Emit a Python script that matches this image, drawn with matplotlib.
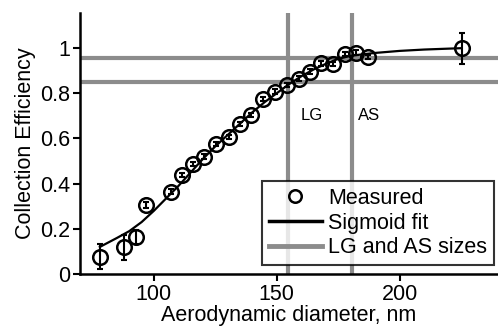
import matplotlib
matplotlib.use("Agg")
import matplotlib.pyplot as plt
from matplotlib.lines import Line2D

plt.rcParams['font.family'] = ['Liberation Sans', 'DejaVu Sans']

# Measured data
meas_x = [78.1, 87.9, 92.6, 96.9, 107.0, 111.5, 115.9, 120.5, 125.4, 130.6, 135.1,
          139.4, 144.5, 149.3, 154.1, 159.0, 163.7, 168.1, 172.9, 177.6, 182.3, 187.0, 225.5]
meas_y = [0.077, 0.118, 0.165, 0.305, 0.364, 0.438, 0.487, 0.519, 0.575, 0.607, 0.664,
          0.704, 0.774, 0.807, 0.836, 0.864, 0.895, 0.932, 0.929, 0.973, 0.979, 0.959, 0.998]
meas_err = [0.055, 0.055, 0.03, 0.012, 0.012, 0.01, 0.01, 0.01, 0.01, 0.01, 0.01,
            0.01, 0.01, 0.01, 0.01, 0.01, 0.01, 0.01, 0.01, 0.01, 0.01, 0.01, 0.07]

# Sigmoid fit
fit_x = [78, 85, 90, 95, 100, 105, 110, 115, 120, 125, 130, 135, 140, 145, 150,
         155, 160, 165, 170, 175, 180, 185, 190, 200, 210, 225]
fit_y = [0.12, 0.16, 0.19, 0.23, 0.28, 0.335, 0.39, 0.45, 0.51, 0.565, 0.615, 0.665,
         0.715, 0.76, 0.80, 0.84, 0.875, 0.905, 0.93, 0.952, 0.965, 0.972, 0.978,
         0.987, 0.993, 0.999]

# LG and AS sizes
size_x = [154.7, 180.8]
size_y = [0.85, 0.955]
size_labels = ["LG", "AS"]

xticks = [100, 150, 200]
yticks = [0, 0.2, 0.4, 0.6, 0.8, 1.0]
ytick_labels = ["0", "0.2", "0.4", "0.6", "0.8", "1"]

grey = "#8c8c8c"
fs = 15.5

fig = plt.figure(figsize=(4.98, 3.31), dpi=100)
ax = fig.add_axes([0.161, 0.172, 0.839, 0.789])

for xv in size_x:
    ax.axvline(xv, color=grey, lw=3.0, zorder=1)
for yv in size_y:
    ax.axhline(yv, color=grey, lw=3.0, zorder=1)

ax.plot(fit_x, fit_y, color="black", lw=1.6, zorder=2)
ax.errorbar(meas_x, meas_y, yerr=meas_err, fmt="none", ecolor="black",
            elinewidth=1.5, capsize=2.5, capthick=1.5, zorder=3)
ax.plot(meas_x, meas_y, "o", ms=10.5, mfc="none", mec="black", mew=1.8, zorder=4)

ax.text(159.5, 0.70, size_labels[0], fontsize=12, va="center", ha="left")
ax.text(183.0, 0.70, size_labels[1], fontsize=12, va="center", ha="left")

ax.set_xlim(70, 240)
ax.set_ylim(0, 1.155)
ax.set_xticks(xticks)
ax.set_yticks(yticks)
ax.set_yticklabels(ytick_labels)
ax.tick_params(labelsize=fs, width=1.5, length=5, pad=2, direction="out")

for s in ["top", "right"]:
    ax.spines[s].set_visible(False)
for s in ["left", "bottom"]:
    ax.spines[s].set_linewidth(1.8)

ax.set_xlabel("Aerodynamic diameter, nm", fontsize=fs, labelpad=0)
ax.set_ylabel("Collection Efficiency", fontsize=fs, labelpad=3)

handles = [
    Line2D([], [], marker="o", ls="none", ms=9, mfc="none", mec="black", mew=1.8),
    Line2D([], [], color="black", lw=2.5),
    Line2D([], [], color=grey, lw=3.5),
]
leg = ax.legend(handles, ["Measured", "Sigmoid fit", "LG and AS sizes"],
                loc="lower right", bbox_to_anchor=(0.99, 0.035), fontsize=fs,
                frameon=True, fancybox=False, edgecolor="black",
                handlelength=2.5, handletextpad=0.28, borderpad=0.3,
                labelspacing=0.18, borderaxespad=0.0)
leg.get_frame().set_linewidth(1.5)
leg.set_zorder(5)

fig.savefig("out.png", dpi=100, facecolor="white")
